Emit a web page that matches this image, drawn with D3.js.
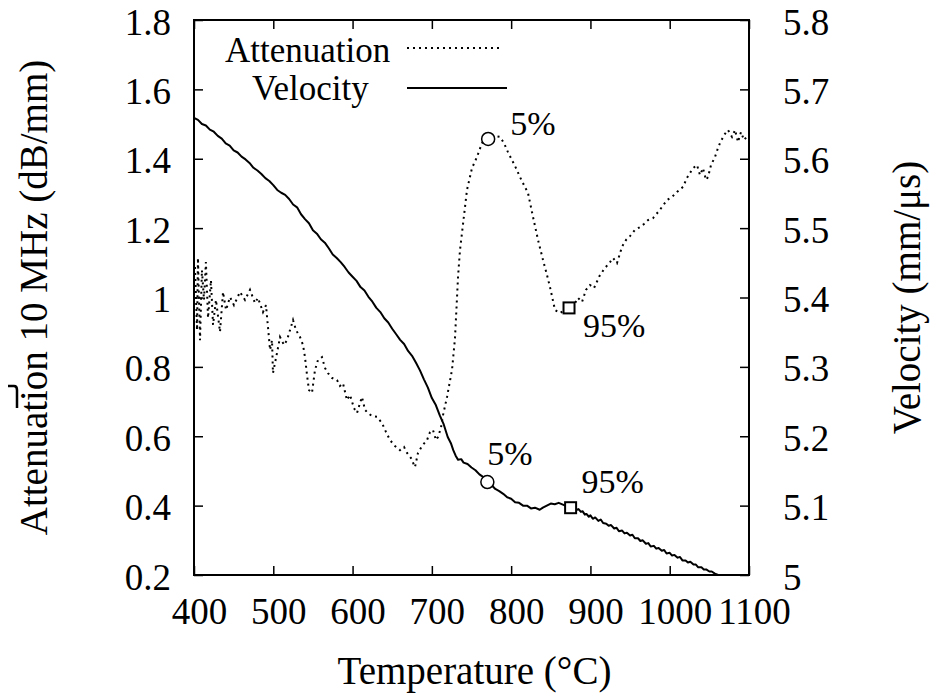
<!DOCTYPE html>
<html>
<head>
<meta charset="utf-8">
<script src="https://cdn.jsdelivr.net/npm/d3@7"></script>
<style>
  body { margin: 0; background: #fff; }
</style>
</head>
<body>
<svg id="chart" width="933" height="694"></svg>
<script>
// tick values
const tempTicks = [400, 500, 600, 700, 800, 900, 1000, 1100];
const attTicks = [0.2, 0.4, 0.6, 0.8, 1, 1.2, 1.4, 1.6, 1.8];
const velTicks = [5, 5.1, 5.2, 5.3, 5.4, 5.5, 5.6, 5.7, 5.8];

// velocity (mm/us) vs temperature
const velocity = [
  [400, 5.659], [405, 5.656], [410, 5.650], [415, 5.648], [420, 5.642], [425, 5.639],
  [430, 5.633], [435, 5.629], [440, 5.622], [445, 5.619], [450, 5.612], [455, 5.609],
  [460, 5.603], [465, 5.599], [470, 5.594], [475, 5.587], [480, 5.583], [485, 5.578],
  [490, 5.572], [495, 5.568], [500, 5.562], [505, 5.555], [510, 5.551], [515, 5.548],
  [520, 5.542], [525, 5.534], [530, 5.530], [535, 5.520], [540, 5.513], [545, 5.507],
  [550, 5.497], [555, 5.492], [560, 5.484], [565, 5.479], [570, 5.471], [575, 5.462],
  [580, 5.457], [585, 5.451], [590, 5.444], [595, 5.436], [600, 5.430], [605, 5.424],
  [610, 5.415], [615, 5.410], [620, 5.401], [625, 5.394], [630, 5.385], [635, 5.379],
  [640, 5.370], [645, 5.364], [650, 5.355], [655, 5.347], [660, 5.339], [665, 5.333],
  [670, 5.323], [675, 5.316], [680, 5.306], [685, 5.295], [690, 5.282], [695, 5.270],
  [700, 5.255], [705, 5.245], [710, 5.230], [715, 5.217], [720, 5.199], [724, 5.190],
  [727, 5.180], [730, 5.172], [733, 5.166], [737, 5.167], [740, 5.162], [745, 5.160],
  [750, 5.155], [755, 5.151], [760, 5.145], [765, 5.141], [770, 5.134], [775, 5.130],
  [780, 5.124], [785, 5.121], [790, 5.117], [795, 5.112], [800, 5.110], [805, 5.105],
  [810, 5.104], [815, 5.100], [820, 5.100], [825, 5.096], [830, 5.097], [836, 5.094],
  [840, 5.097], [845, 5.100], [850, 5.103], [855, 5.102], [860, 5.104], [866, 5.101],
  [870, 5.099], [875, 5.097], [880, 5.097], [883, 5.094], [885, 5.095], [888, 5.091],
  [890, 5.092], [893, 5.087], [895, 5.088], [898, 5.084], [900, 5.086], [903, 5.081],
  [906, 5.083], [910, 5.078], [913, 5.080], [916, 5.075], [920, 5.074], [923, 5.071],
  [926, 5.072], [930, 5.067], [933, 5.068], [936, 5.063], [940, 5.064], [943, 5.060],
  [946, 5.061], [950, 5.057], [953, 5.058], [956, 5.053], [960, 5.053], [963, 5.049],
  [966, 5.050], [970, 5.045], [973, 5.046], [976, 5.041], [980, 5.042], [983, 5.038],
  [986, 5.039], [990, 5.035], [993, 5.036], [996, 5.031], [1000, 5.032], [1003, 5.028],
  [1006, 5.029], [1010, 5.025], [1013, 5.026], [1016, 5.021], [1020, 5.021], [1023, 5.018],
  [1026, 5.019], [1030, 5.015], [1033, 5.015], [1036, 5.011], [1040, 5.011], [1043, 5.008],
  [1046, 5.008], [1050, 5.005], [1053, 5.005], [1057, 5.002], [1061, 5.000]
];

// attenuation at 10 MHz (dB/mm) vs temperature
const attenuation = [
  [401.3, 1.088], [403.8, 0.906], [405, 1.114], [407.6, 0.877], [410, 1.079], [412.6, 0.993],
  [415, 1.102], [417.7, 0.941], [421.4, 1.050], [424, 0.921], [427.7, 0.993], [432.8, 0.901],
  [436.6, 1.016], [440.4, 0.964], [445.4, 1.001], [450.4, 0.978], [458, 1.016], [464.3, 0.993],
  [470.6, 1.022], [476.9, 0.984], [480.7, 0.999], [487, 0.958], [490.8, 0.978], [493.3, 0.915],
  [495.9, 0.849], [498.4, 0.877], [499.6, 0.782], [504.7, 0.840], [508.5, 0.886], [513.5, 0.863],
  [517.3, 0.877], [521.1, 0.906], [524.9, 0.935], [528.7, 0.906], [533.7, 0.886], [537.5, 0.863],
  [540, 0.828], [542.5, 0.777], [545, 0.733], [548.8, 0.725], [552.6, 0.791], [556.4, 0.820],
  [561.4, 0.828], [565.2, 0.797], [569, 0.782], [574, 0.768], [580.4, 0.762], [584.1, 0.745],
  [587.9, 0.753], [592.9, 0.704], [596.8, 0.719], [601.8, 0.681], [605.6, 0.667], [609.4, 0.696],
  [611.9, 0.713], [615.7, 0.676], [619.5, 0.667], [624.5, 0.658], [630.8, 0.656], [637.1, 0.638],
  [642.2, 0.612], [647.2, 0.589], [653.5, 0.572], [659.8, 0.560], [664.9, 0.569], [668.7, 0.552],
  [673.7, 0.537], [678.7, 0.511], [682.5, 0.552], [687.6, 0.572], [693.9, 0.589], [697.7, 0.612],
  [701.4, 0.618], [705.2, 0.589], [707.7, 0.598], [711.5, 0.624], [714.1, 0.661], [719.1, 0.713],
  [725.4, 0.791], [729.2, 0.883], [733, 1.059], [735.5, 1.137], [738, 1.186], [744.3, 1.310],
  [750.6, 1.373], [756.9, 1.405], [763.2, 1.445], [770.8, 1.457], [778.4, 1.466], [785.9, 1.463],
  [791, 1.445], [796, 1.419], [801.1, 1.396], [806.1, 1.373], [811.2, 1.347], [816.2, 1.324],
  [821.3, 1.301], [827.6, 1.232], [833.9, 1.166], [840.2, 1.108], [845.2, 1.065], [849, 1.030],
  [855.3, 0.964], [861.6, 0.955], [868, 0.964], [873, 0.970], [879.3, 0.978], [884.3, 0.999],
  [889.4, 0.987], [894.4, 1.022], [899.5, 1.036], [904.5, 1.027], [912.1, 1.065], [918.4, 1.085],
  [924.7, 1.102], [928.5, 1.114], [933.5, 1.099], [939.8, 1.146], [944.9, 1.166], [949.9, 1.177],
  [956.2, 1.195], [962.5, 1.203], [967.6, 1.212], [972.6, 1.223], [978.9, 1.229], [985.2, 1.246],
  [990.3, 1.261], [996.6, 1.281], [1002.9, 1.290], [1009.2, 1.304], [1016.8, 1.319], [1021.8, 1.345],
  [1025.6, 1.359], [1029.4, 1.373], [1034.4, 1.382], [1038.2, 1.353], [1042, 1.373], [1045.8, 1.339],
  [1048.3, 1.347], [1052.1, 1.382], [1057.1, 1.405], [1060.9, 1.431], [1063.4, 1.445], [1068.5, 1.468],
  [1073.5, 1.483], [1078.6, 1.463], [1082.4, 1.483], [1086.1, 1.448], [1089.9, 1.477], [1093.7, 1.454],
  [1098.7, 1.468]
];

// 5% / 95% markers
const attMarks = [
  { t: 771, v: 1.457, shape: "circle", label: "5%", dx: 22, dy: -4 },
  { t: 873, v: 0.970, shape: "square", label: "95%", dx: 14, dy: 29 }
];
const velMarks = [
  { t: 770, v: 5.134, shape: "circle", label: "5%", dx: 0, dy: -17 },
  { t: 875, v: 5.097, shape: "square", label: "95%", dx: 11, dy: -15 }
];

const FONT = "Liberation Serif";

var svg = d3.select("#chart"),
  margin = { top: 20, right: 184, bottom: 119, left: 194 },
  width = +svg.attr("width") - margin.left - margin.right,
  height = +svg.attr("height") - margin.top - margin.bottom;

const x = d3.scaleLinear().domain([400, 1100]).range([margin.left, margin.left + width]);
const yL = d3.scaleLinear().domain([0.2, 1.8]).range([margin.top + height, margin.top]);
const yR = d3.scaleLinear().domain([5, 5.8]).range([margin.top + height, margin.top]);

const fmt = (d) => String(+d.toFixed(1));

function styleAxis(g, size) {
  g.attr("font-size", size).attr("font-family", FONT);
  g.select(".domain").remove();
  g.selectAll(".tick line").attr("stroke", "#000").attr("stroke-width", 1.5);
  g.selectAll(".tick text").attr("fill", "#000");
}

function label(sel, size) {
  return sel.attr("font-family", FONT).attr("font-size", size).attr("fill", "#000");
}

// axes, ticks pointing inward
svg.append("g")
  .attr("transform", `translate(0,${margin.top + height})`)
  .call(d3.axisBottom(x).tickValues(tempTicks).tickFormat(d3.format("d")).tickSize(-9).tickPadding(23))
  .call((g) => styleAxis(g, 37))
  .selectAll(".tick text").attr("dx", 5);

svg.append("g")
  .attr("transform", `translate(0,${margin.top})`)
  .call(d3.axisTop(x).tickValues(tempTicks).tickFormat("").tickSize(-9))
  .call((g) => styleAxis(g, 37));

svg.append("g")
  .attr("transform", `translate(${margin.left},0)`)
  .call(d3.axisLeft(yL).tickValues(attTicks).tickFormat(fmt).tickSize(-9).tickPadding(23))
  .call((g) => styleAxis(g, 37))
  .selectAll(".tick text").attr("dy", "0.38em");

svg.append("g")
  .attr("transform", `translate(${margin.left + width},0)`)
  .call(d3.axisRight(yR).tickValues(velTicks).tickFormat(fmt).tickSize(-9).tickPadding(34))
  .call((g) => styleAxis(g, 37))
  .selectAll(".tick text").attr("dy", "0.38em");

// clip to plot area
svg.append("clipPath").attr("id", "plotClip")
  .append("rect")
  .attr("x", margin.left).attr("y", margin.top)
  .attr("width", width).attr("height", height);

const plot = svg.append("g").attr("clip-path", "url(#plotClip)");

plot.append("path")
  .datum(attenuation)
  .attr("fill", "none")
  .attr("stroke", "#000")
  .attr("stroke-width", 2)
  .attr("stroke-dasharray", "2,4")
  .attr("d", d3.line().x((d) => x(d[0])).y((d) => yL(d[1])));

plot.append("path")
  .datum(velocity)
  .attr("fill", "none")
  .attr("stroke", "#000")
  .attr("stroke-width", 2)
  .attr("stroke-linejoin", "round")
  .attr("d", d3.line().x((d) => x(d[0])).y((d) => yR(d[1])));

// frame
svg.append("rect")
  .attr("x", margin.left).attr("y", margin.top)
  .attr("width", width).attr("height", height)
  .attr("fill", "none").attr("stroke", "#000").attr("stroke-width", 2);

// markers and percent labels
function drawMarks(marks, yScale) {
  marks.forEach(function (m) {
    const cx = x(m.t), cy = yScale(m.v);
    if (m.shape === "circle") {
      svg.append("circle").attr("cx", cx).attr("cy", cy).attr("r", 6.5)
        .attr("fill", "#fff").attr("stroke", "#000").attr("stroke-width", 1.5);
    } else {
      svg.append("rect").attr("x", cx - 5.5).attr("y", cy - 5.5)
        .attr("width", 11).attr("height", 11)
        .attr("fill", "#fff").attr("stroke", "#000").attr("stroke-width", 2);
    }
    svg.append("text").attr("x", cx + m.dx).attr("y", cy + m.dy)
      .call(label, 34).text(m.label);
  });
}
drawMarks(attMarks, yL);
drawMarks(velMarks, yR);

// legend
svg.append("text").attr("x", 225).attr("y", 62).call(label, 35).text("Attenuation");
svg.append("line").attr("x1", 407).attr("x2", 502).attr("y1", 48).attr("y2", 48)
  .attr("stroke", "#000").attr("stroke-width", 2).attr("stroke-dasharray", "2,4");
svg.append("text").attr("x", 252).attr("y", 100).call(label, 35).text("Velocity");
svg.append("line").attr("x1", 407).attr("x2", 507).attr("y1", 88).attr("y2", 88)
  .attr("stroke", "#000").attr("stroke-width", 2);

// axis titles
svg.append("text")
  .attr("transform", `translate(47,${margin.top + height / 2}) rotate(-90)`)
  .attr("text-anchor", "middle")
  .call(label, 39)
  .text("Attenuation 10 MHz (dB/mm)");

svg.append("text")
  .attr("transform", `translate(920,${margin.top + height / 2}) rotate(-90)`)
  .attr("text-anchor", "middle")
  .call(label, 39)
  .text("Velocity (mm/μs)");

svg.append("text")
  .attr("x", margin.left + width / 2 + 3)
  .attr("y", 684)
  .attr("text-anchor", "middle")
  .call(label, 39)
  .text("Temperature (°C)");

// stray mark at the left edge of the original figure
svg.append("path")
  .attr("d", "M8,386 L14,386 Q17,386 17,390 L17,408")
  .attr("fill", "none").attr("stroke", "#000").attr("stroke-width", 2.5);
</script>
</body>
</html>
